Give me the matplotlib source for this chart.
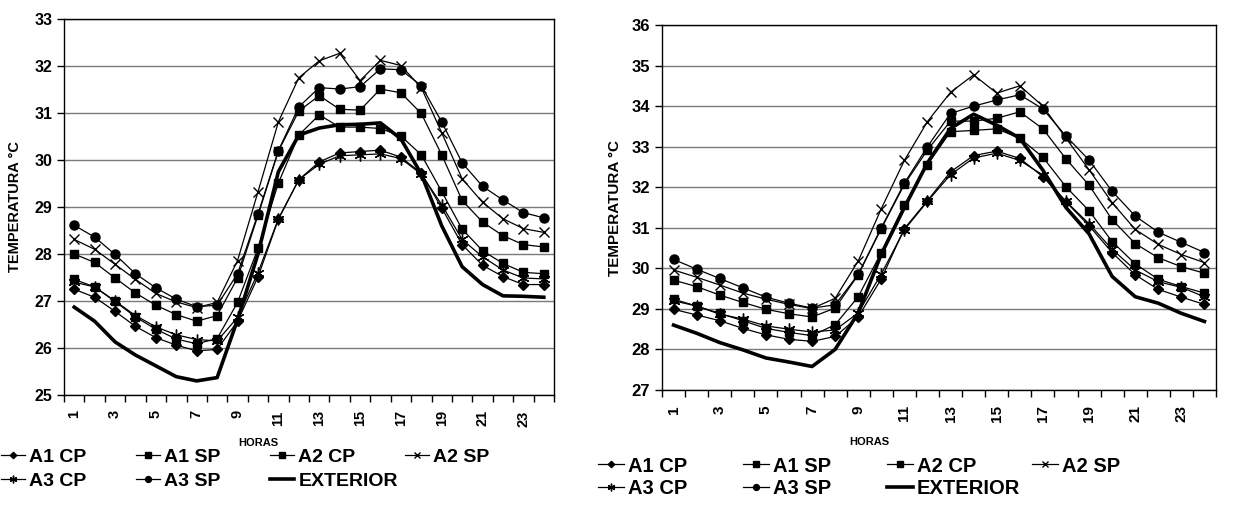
import matplotlib
matplotlib.use('Agg')
import matplotlib.pyplot as plt
import numpy as np

plt.rcParams['font.family'] = ['Liberation Sans', 'DejaVu Sans']
plt.rcParams['font.weight'] = 'bold'

horas = list(range(1, 25))
nombres = ['A1 CP', 'A1 SP', 'A2 CP', 'A2 SP', 'A3 CP', 'A3 SP', 'EXTERIOR']

# grafico izquierdo
a1cp_izq = [27.25, 27.08, 26.78, 26.46, 26.22, 26.06, 25.94, 25.97, 26.57, 27.51, 28.74, 29.58,
            29.96, 30.15, 30.18, 30.21, 30.06, 29.72, 28.98, 28.20, 27.76, 27.52, 27.35, 27.35]
a1sp_izq = [28.00, 27.82, 27.49, 27.17, 26.91, 26.71, 26.57, 26.69, 27.49, 28.82, 30.19, 31.04,
            31.37, 31.08, 31.06, 31.51, 31.43, 30.99, 30.11, 29.14, 28.68, 28.39, 28.20, 28.15]
a2cp_izq = [27.46, 27.30, 26.99, 26.66, 26.40, 26.19, 26.09, 26.20, 26.97, 28.12, 29.51, 30.53,
            30.96, 30.70, 30.70, 30.67, 30.51, 30.11, 29.33, 28.53, 28.07, 27.80, 27.61, 27.58]
a2sp_izq = [28.31, 28.10, 27.78, 27.46, 27.16, 26.98, 26.86, 26.97, 27.86, 29.32, 30.81, 31.75,
            32.11, 32.27, 31.69, 32.12, 32.01, 31.54, 30.58, 29.60, 29.10, 28.75, 28.54, 28.46]
a3cp_izq = [27.40, 27.30, 27.00, 26.69, 26.45, 26.28, 26.18, 26.15, 26.65, 27.60, 28.75, 29.58,
            29.91, 30.09, 30.11, 30.13, 30.03, 29.70, 29.05, 28.31, 27.94, 27.66, 27.49, 27.47]
a3sp_izq = [28.61, 28.36, 27.99, 27.58, 27.28, 27.04, 26.88, 26.91, 27.58, 28.85, 30.20, 31.13,
            31.54, 31.51, 31.56, 31.94, 31.92, 31.58, 30.81, 29.94, 29.44, 29.15, 28.88, 28.77]
ext_izq = [26.87, 26.57, 26.13, 25.85, 25.62, 25.39, 25.30, 25.37, 26.60, 28.00, 29.75, 30.53,
           30.68, 30.75, 30.76, 30.79, 30.45, 29.70, 28.60, 27.73, 27.35, 27.11, 27.10, 27.08]

# grafico derecho
a1cp_der = [28.99, 28.85, 28.71, 28.52, 28.36, 28.25, 28.20, 28.32, 28.80, 29.74, 30.98, 31.67,
            32.38, 32.78, 32.89, 32.71, 32.26, 31.64, 31.05, 30.39, 29.84, 29.48, 29.29, 29.11]
a1sp_der = [29.71, 29.55, 29.34, 29.16, 28.99, 28.88, 28.80, 29.02, 29.84, 30.98, 32.07, 32.92,
            33.63, 33.63, 33.70, 33.86, 33.44, 32.70, 32.05, 31.20, 30.61, 30.26, 30.04, 29.88]
a2cp_der = [29.24, 29.07, 28.89, 28.71, 28.52, 28.42, 28.34, 28.61, 29.30, 30.39, 31.56, 32.56,
            33.37, 33.40, 33.44, 33.21, 32.74, 32.01, 31.42, 30.66, 30.11, 29.73, 29.55, 29.39]
a2sp_der = [29.96, 29.78, 29.59, 29.39, 29.24, 29.11, 29.01, 29.26, 30.18, 31.47, 32.66, 33.62,
            34.34, 34.77, 34.32, 34.50, 34.00, 33.21, 32.43, 31.62, 30.96, 30.59, 30.34, 30.14]
a3cp_der = [29.20, 29.07, 28.87, 28.75, 28.58, 28.50, 28.43, 28.48, 28.90, 29.86, 30.95, 31.65,
            32.31, 32.72, 32.84, 32.66, 32.30, 31.65, 31.10, 30.47, 29.96, 29.67, 29.53, 29.30]
a3sp_der = [30.22, 29.98, 29.75, 29.52, 29.29, 29.14, 29.02, 29.10, 29.85, 31.00, 32.10, 33.00,
            33.82, 34.00, 34.15, 34.28, 33.93, 33.26, 32.67, 31.90, 31.29, 30.89, 30.64, 30.39]
ext_der = [28.60, 28.40, 28.17, 27.99, 27.79, 27.69, 27.58, 28.00, 28.90, 30.35, 31.50, 32.60,
           33.45, 33.80, 33.53, 33.21, 32.42, 31.50, 30.85, 29.80, 29.30, 29.14, 28.89, 28.69]

estilos = [
    dict(marker='D', ms=5),
    dict(marker='s', ms=6),
    dict(marker='s', ms=6),
    dict(marker='x', ms=7.5, mew=1),
    dict(marker=(6, 2, 0), ms=8.5, mew=1),
    dict(marker='o', ms=6.5),
]


def grafico(ax, series, ymin, ymax, fs_tick, fs_ylab, xlab_pos, ylab_x):
    lineas = []
    for datos, nombre, st in zip(series[:6], nombres[:6], estilos):
        l, = ax.plot(horas, datos, color='black', lw=0.9, label=nombre, **st)
        lineas.append(l)
    l, = ax.plot(horas, series[6], color='black', lw=2.6, label=nombres[6])
    lineas.append(l)

    ax.set_xlim(0.5, 24.5)
    ax.set_ylim(ymin, ymax)
    ax.set_xticks(np.arange(0.5, 25, 1))
    ax.set_xticklabels([])
    ax.set_xticks(range(1, 25, 2), [str(h) for h in range(1, 25, 2)], minor=True, rotation=90)
    ax.tick_params(axis='x', which='major', length=5, direction='out', width=1)
    ax.tick_params(axis='x', which='minor', length=0, pad=11, labelsize=fs_tick)
    ax.set_yticks(range(ymin, ymax + 1))
    ax.tick_params(axis='y', length=5, direction='out', width=1, labelsize=fs_tick + 1)
    ax.grid(axis='y', color='#7a7a7a', lw=1)
    ax.set_axisbelow(True)
    for s in ax.spines.values():
        s.set_color('black')
        s.set_linewidth(1)
    ax.set_ylabel('TEMPERATURA °C', fontsize=fs_ylab, fontweight='bold')
    ax.yaxis.set_label_coords(ylab_x, 0.5)
    ax.set_xlabel('HORAS', fontsize=8, fontweight='bold')
    ax.xaxis.set_label_coords(*xlab_pos)
    return lineas


W, H = 1247, 525
fig = plt.figure(figsize=(W / 100, H / 100), dpi=100)

ax1 = fig.add_axes([64 / W, 1 - 395 / H, 490 / W, 376 / H])
ax2 = fig.add_axes([662 / W, 1 - 390 / H, 554 / W, 365 / H])

l1 = grafico(ax1, [a1cp_izq, a1sp_izq, a2cp_izq, a2sp_izq, a3cp_izq, a3sp_izq, ext_izq],
             25, 33, 10.5, 10.5, (0.396, -0.115), -0.086)
l2 = grafico(ax2, [a1cp_der, a1sp_der, a2cp_der, a2sp_der, a3cp_der, a3sp_der, ext_der],
             27, 36, 11, 11, (0.375, -0.128), -0.072)


def leyenda(lineas, x, y1, y2, fs, hl, cs):
    kw = dict(loc='center left', ncol=4, frameon=False, handlelength=hl, markerscale=0.65,
              handletextpad=0.2, columnspacing=cs, borderpad=0, borderaxespad=0,
              prop={'weight': 'bold', 'size': fs})
    fig.legend(handles=lineas[:4], bbox_to_anchor=(x / W, 1 - y1 / H), **kw)
    fig.legend(handles=lineas[4:], bbox_to_anchor=(x / W, 1 - y2 / H), **kw)


leyenda(l1, 1, 457, 481, 14, 1.25, 2.55)
leyenda(l2, 598, 466, 489, 14.5, 1.3, 2.75)

fig.savefig('out.png', dpi=100)
